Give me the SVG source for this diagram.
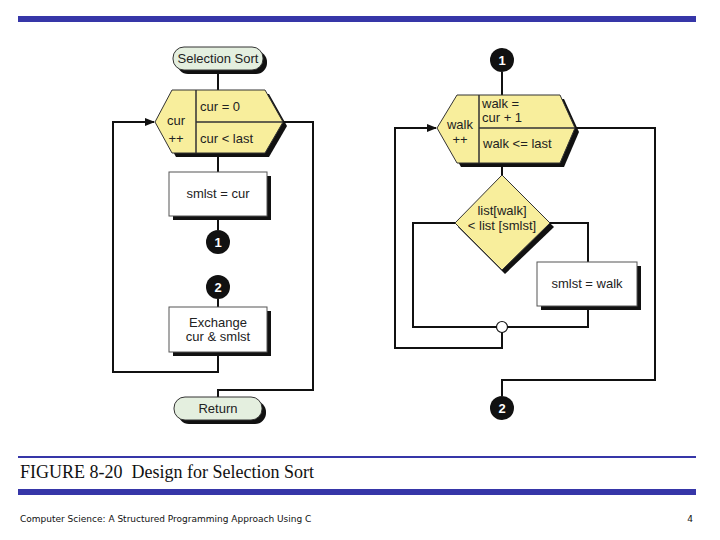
<svg xmlns="http://www.w3.org/2000/svg" width="720" height="540" viewBox="0 0 720 540">
<defs>
<style>
.t{font-family:"Liberation Sans",Arial,sans-serif;font-size:13px;fill:#222}
.ln{fill:none;stroke:#111;stroke-width:2}
.hex{fill:#f8ee9c;stroke:#333;stroke-width:1}
.box{fill:#fff;stroke:#555;stroke-width:1}
.pill{fill:#e4efdf;stroke:#333;stroke-width:1}
.sh{fill:#111}
.dot{fill:#111}
.dn{font-family:"Liberation Sans",Arial,sans-serif;font-size:13px;font-weight:bold;fill:#fff;text-anchor:middle}
</style>
<marker id="ar" markerWidth="10" markerHeight="8" refX="9" refY="4" orient="auto" markerUnits="userSpaceOnUse"><path d="M0,0L10,4L0,8z" fill="#111"/></marker>
</defs>
<rect x="18" y="16" width="678" height="6" fill="#3636a8"/>
<g id="connectors">
<path class="ln" d="M218,70V90M218,153V172M218,216V230M218,299V307"/>
<path class="ln" d="M218,352V372H113V122H154" marker-end="url(#ar)"/>
<path class="ln" d="M283,122H313V390H218V397"/>
<path class="ln" d="M502,72V95M502,163V175"/>
<path class="ln" d="M502,332V348H395V128H436" marker-end="url(#ar)"/>
<path class="ln" d="M455,223H413V327H497M550,223H588V262M588,306V327H507"/>
<path class="ln" d="M575,128H655V380H502V396"/>
</g>
<g id="start">
<rect class="sh" x="177" y="51" width="90" height="23" rx="11"/>
<rect class="pill" x="173" y="47" width="90" height="23" rx="11"/>
<text class="t" x="218" y="63" text-anchor="middle">Selection Sort</text>
</g>
<g id="loop1">
<polygon class="sh" points="159,126 176,94 269,94 287,126 269,157 176,157"/>
<polygon class="hex" points="155,122 172,90 265,90 283,122 265,153 172,153"/>
<path d="M196,90V153M196,122H283" stroke="#333" stroke-width="1.5"/>
<text class="t" x="176" y="125" text-anchor="middle">cur</text>
<text class="t" x="176" y="143" text-anchor="middle">++</text>
<text class="t" x="200" y="111">cur  =  0</text>
<text class="t" x="200" y="143">cur &lt;  last</text>
</g>
<g id="box1">
<rect class="sh" x="173" y="176" width="98" height="44"/>
<rect class="box" x="169" y="172" width="98" height="44"/>
<text class="t" x="218" y="198" text-anchor="middle">smlst = cur</text>
</g>
<g id="c1a"><circle class="dot" cx="218" cy="242" r="12"/><text class="dn" x="218" y="247">1</text></g>
<g id="c2a"><circle class="dot" cx="218" cy="287" r="12"/><text class="dn" x="218" y="292">2</text></g>
<g id="box2">
<rect class="sh" x="173" y="311" width="98" height="45"/>
<rect class="box" x="169" y="307" width="98" height="45"/>
<text class="t" x="218" y="327" text-anchor="middle">Exchange</text>
<text class="t" x="218" y="341" text-anchor="middle">cur &amp; smlst</text>
</g>
<g id="ret">
<rect class="sh" x="178" y="401" width="88" height="23" rx="11"/>
<rect class="pill" x="174" y="397" width="88" height="23" rx="11"/>
<text class="t" x="218" y="413" text-anchor="middle">Return</text>
</g>
<g id="c1b"><circle class="dot" cx="502" cy="60" r="12"/><text class="dn" x="502" y="65">1</text></g>
<g id="loop2">
<polygon class="sh" points="441,132 461,99 564,99 579,132 564,167 461,167"/>
<polygon class="hex" points="437,128 457,95 560,95 575,128 560,163 457,163"/>
<path d="M479,95V163M479,128H575" stroke="#333" stroke-width="1.5"/>
<text class="t" x="460" y="129" text-anchor="middle">walk</text>
<text class="t" x="460" y="144" text-anchor="middle">++</text>
<text class="t" x="482" y="108">walk =</text>
<text class="t" x="482" y="122">cur + 1</text>
<text class="t" x="483" y="148">walk &lt;=  last</text>
</g>
<g id="dec">
<polygon class="sh" points="505,179 554,227 505,274 458,227"/>
<polygon class="hex" points="502,175 550,223 502,270 455,223"/>
<text class="t" x="502" y="215" text-anchor="middle" font-size="12.5">list[walk]</text>
<text class="t" x="502" y="230" text-anchor="middle" font-size="12.5">&lt; list [smlst]</text>
</g>
<g id="box3">
<rect class="sh" x="541" y="266" width="100" height="44"/>
<rect class="box" x="537" y="262" width="100" height="44"/>
<text class="t" x="587" y="288" text-anchor="middle">smlst = walk</text>
</g>
<g id="junction"><circle cx="502" cy="327" r="5.5" fill="#fff" stroke="#111" stroke-width="1.2"/></g>
<g id="c2b"><circle class="dot" cx="502" cy="408" r="12"/><text class="dn" x="502" y="413">2</text></g>
<rect x="18" y="456" width="678" height="2" fill="#3636a8"/>
<text x="20" y="478" font-family="'Liberation Serif',serif" font-size="18" fill="#111" xml:space="preserve">FIGURE 8-20  Design for Selection Sort</text>
<rect x="18" y="489" width="678" height="6" fill="#3636a8"/>
<text x="20" y="522" font-family="'DejaVu Sans',sans-serif" font-size="9" fill="#111">Computer Science: A Structured Programming Approach Using C</text>
<text x="693" y="522" font-family="'DejaVu Sans',sans-serif" font-size="9" fill="#111" text-anchor="end">4</text>
</svg>
